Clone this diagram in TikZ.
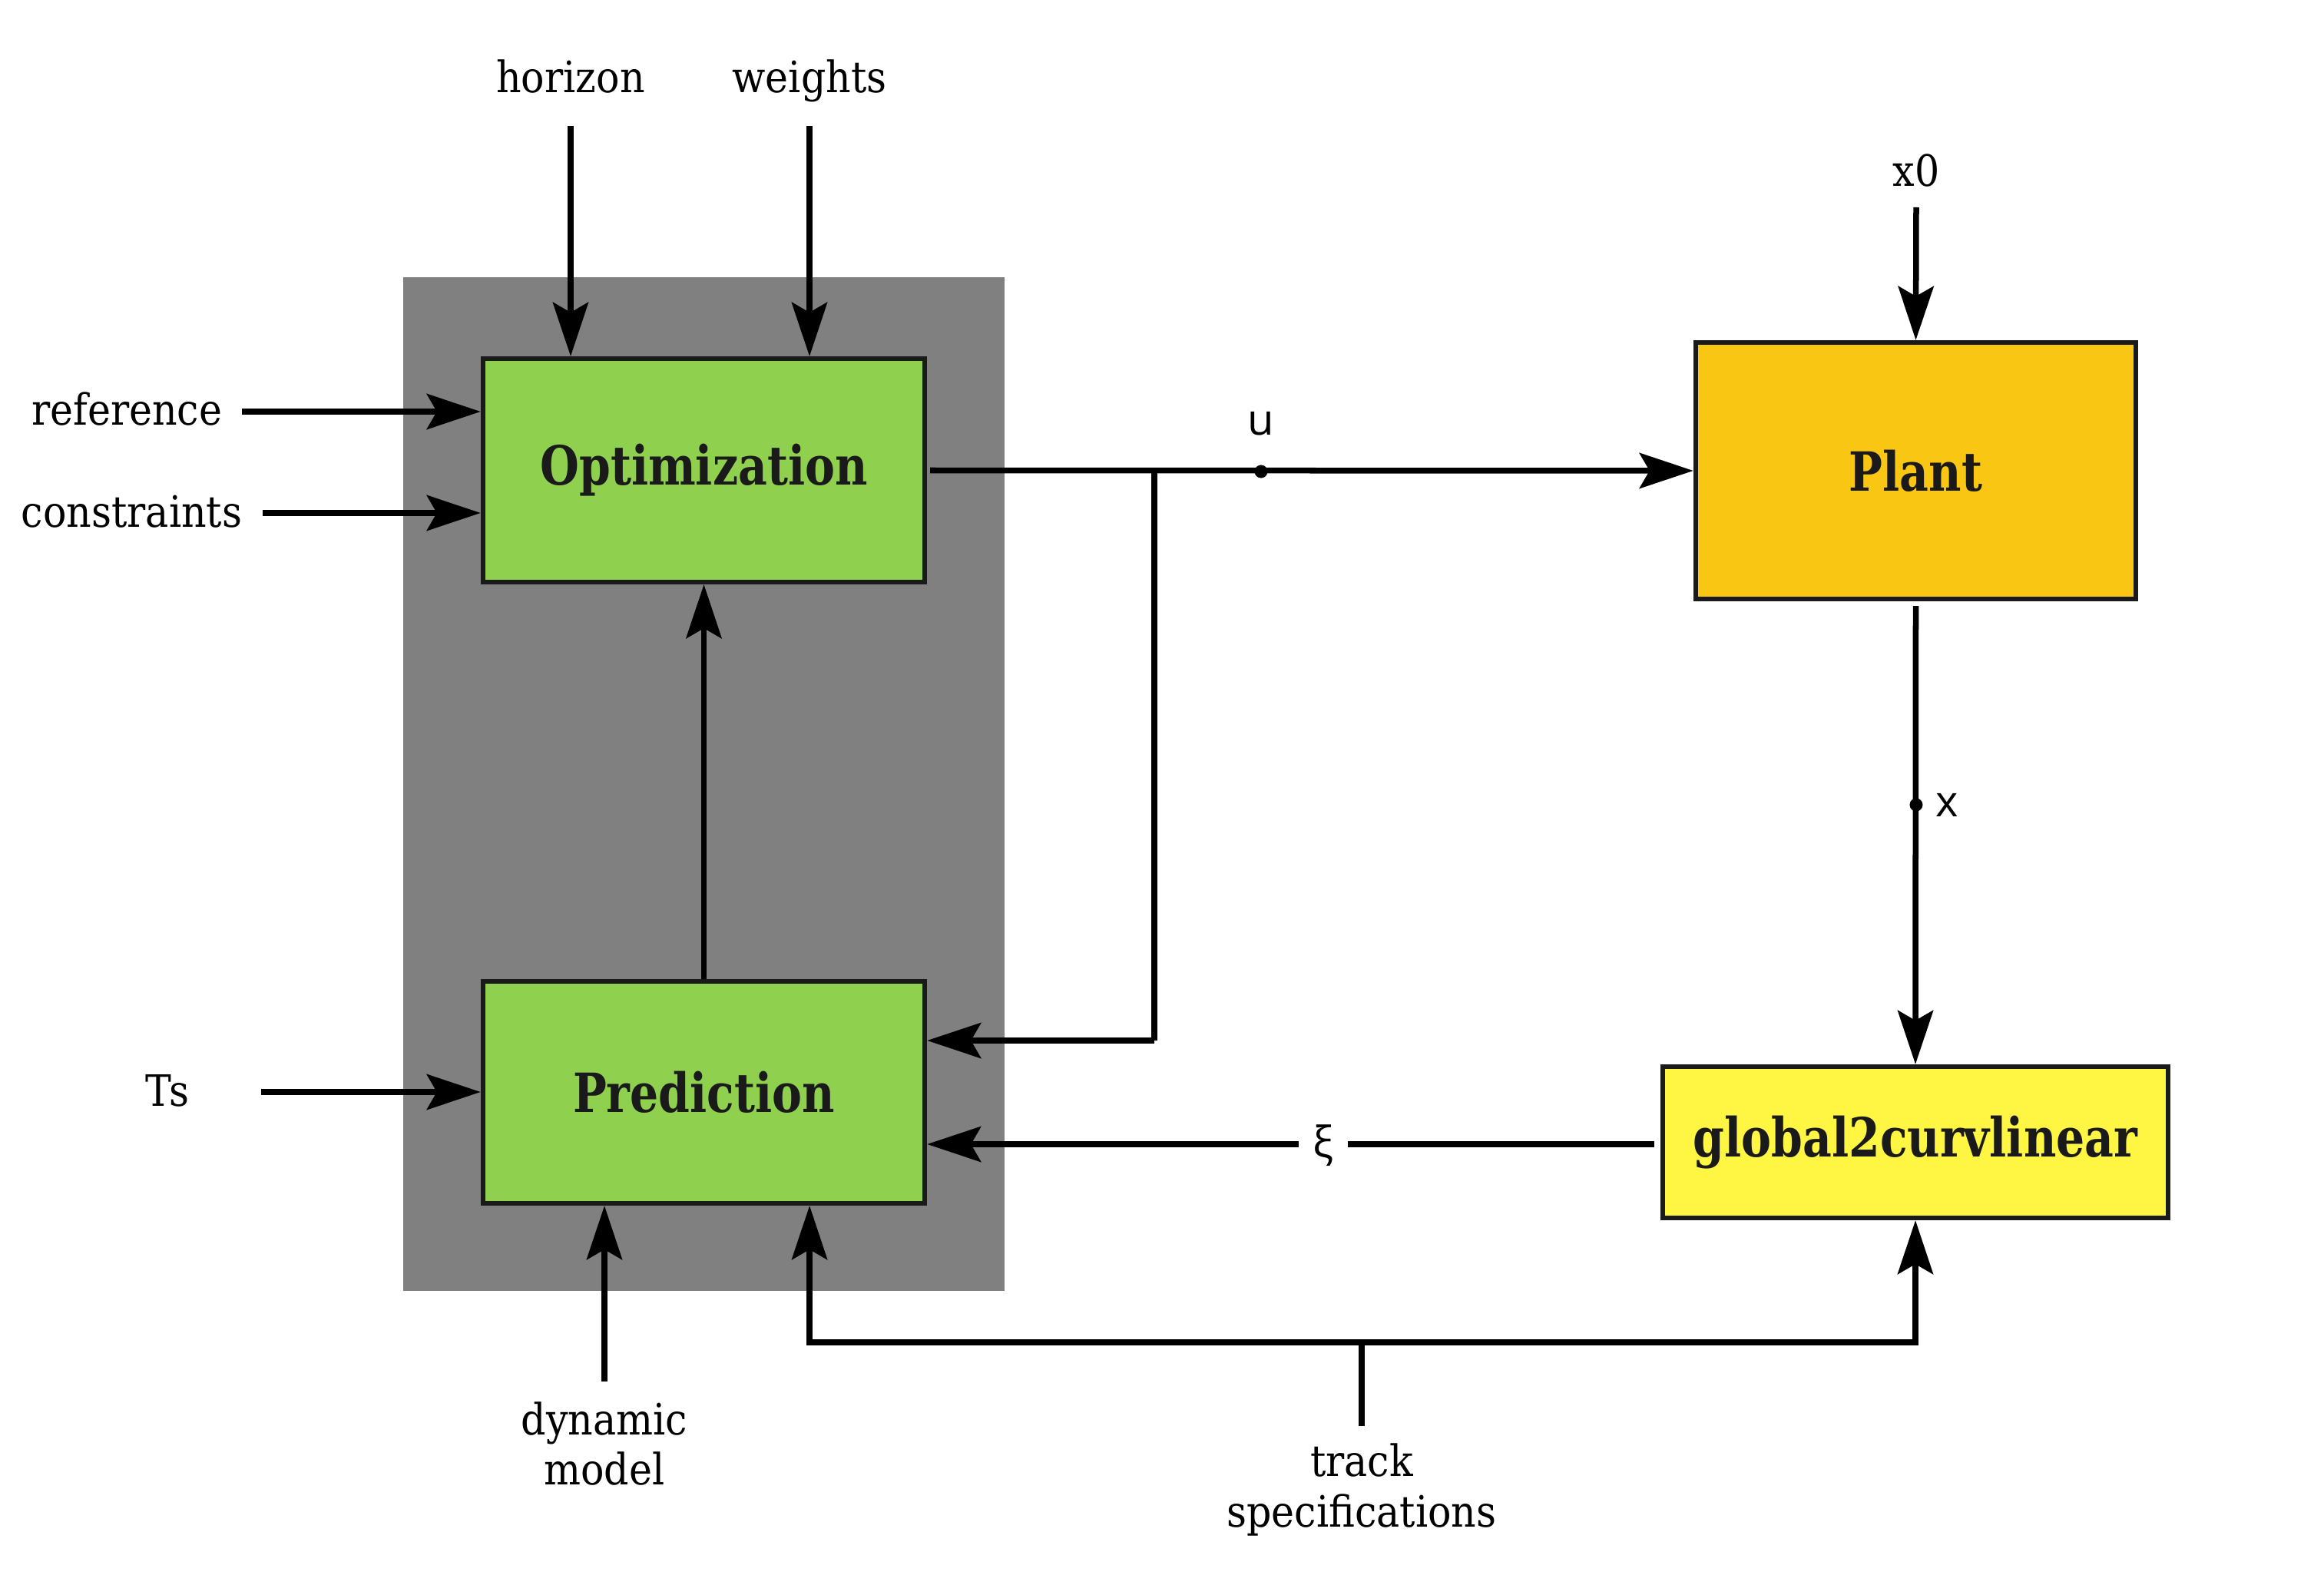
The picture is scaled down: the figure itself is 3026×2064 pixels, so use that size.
\documentclass[tikz,border=0pt]{standalone}
\usepackage{fontspec}
\setmainfont{DejaVu Serif}[FakeStretch=0.9, BoldFeatures={FakeStretch=0.83}]
\newfontfamily\sigfont{Open Sans}
\usetikzlibrary{arrows.meta,calc}
\definecolor{boxgreen}{HTML}{8FD14F}
\definecolor{plantcol}{HTML}{F9C613}
\definecolor{gcol}{HTML}{FFF643}
\definecolor{grayback}{HTML}{808080}
\definecolor{edgecol}{HTML}{1A1A1A}
\tikzset{
  blk/.style={draw=edgecol, line width=0.06cm, inner sep=0pt,
    font=\fontsize{20}{24}\selectfont\bfseries, text=edgecol},
  lbl/.style={font=\fontsize{16}{18.6}\selectfont, align=center, inner sep=0pt},
  sig/.style={font=\sigfont\fontsize{16}{20}\selectfont, inner sep=0pt},
  conn/.style={line width=0.075cm, black},
  arr/.style={conn, -{Stealth[length=0.7cm, width=0.46cm, inset=0.13cm]}},
  jdot/.style={circle, fill=black, inner sep=0pt, minimum size=0.17cm}
}
\begin{document}
\begin{tikzpicture}[x=0.01cm, y=-0.01cm]
\useasboundingbox (0,0) rectangle (3026,2064);
\fill[grayback] (525,361) rectangle (1308,1681);

\node[blk, fill=boxgreen, minimum width=5.75cm, minimum height=2.91cm] (opt) at (916.5,612.5) {Optimization};
\node[blk, fill=boxgreen, minimum width=5.75cm, minimum height=2.89cm] (pred) at (916.5,1422.5) {Prediction};
\node[blk, fill=plantcol, minimum width=5.73cm, minimum height=3.34cm] (plant) at (2494.5,613) {Plant};
\node[blk, fill=gcol, minimum width=6.58cm, minimum height=1.97cm] (g2c) at (2494,1487.5) {global2curvlinear};

% labels
\node[lbl, anchor=base] (horizon) at (743,121) {horizon};
\node[lbl, anchor=base] (weights) at (1054,121) {weights};
\node[lbl, anchor=base east] (reference) at (290,554) {reference};
\node[lbl, anchor=base east] (constraints) at (316,687) {constraints};
\node[lbl, anchor=base] (ts) at (218,1440) {Ts};
\node[lbl] (dyn) at (787,1880) {dynamic\\model};
\node[lbl] (track) at (1773,1940) {track\\specifications};
\node[lbl, anchor=base] (x0) at (2495,243) {x0};

\coordinate (hS) at (743,164);
\coordinate (wS) at (1054,164);
\coordinate (rS) at (315,536);
\coordinate (cS) at (342,668);
\coordinate (tsS) at (340,1422);
\coordinate (dS) at (787,1799);
\coordinate (tS) at (1773,1857);
\coordinate (tJ) at (1773,1748);
\coordinate (x0S) at (2495,270);
\coordinate (uJ) at (1503,614);

\draw[arr] (hS) -- (hS |- opt.north);
\draw[arr] (wS) -- (wS |- opt.north);
\draw[arr] (rS) -- (rS -| opt.west);
\draw[arr] (cS) -- (cS -| opt.west);
\draw[arr] (tsS) -- (tsS -| pred.west);
\draw[arr] (dS) -- (dS |- pred.south);
\draw[arr] (pred.north) -- (opt.south);
\draw[arr] (x0S) -- (plant.north);

% u signal
\draw[arr] ([xshift=0.04cm]opt.east) -- (plant.west);
\node[jdot] (udot) at (1642,614) {};
\node[sig] (ulbl) at (1642,552) {u};
\draw[conn, line join=miter] (uJ) -- (1503,1355) coordinate (bJ);
\draw[arr] (bJ) -- (bJ -| pred.east);

% x signal
\draw[arr] ([yshift=-0.06cm]plant.south) -- (g2c.north);
\node[jdot] (xdot) at (2495,1048) {};
\node[sig, anchor=west] (xlbl) at (2520,1048) {x};

% xi signal
\node[sig] (xi) at (1723,1492) {ξ};
\draw[conn] ([xshift=-0.08cm]g2c.west |- 0,1490) -- ([xshift=0.18cm]xi.east |- 0,1490);
\draw[arr] ([xshift=-0.18cm]xi.west |- 0,1490) -- (pred.east |- 0,1490);

% track specs
\draw[conn] (tS) -- (tJ);
\draw[arr] (tJ) -| ([xshift=1.375cm]pred.south);
\draw[arr] (tJ) -| (g2c.south);
\end{tikzpicture}
\end{document}
